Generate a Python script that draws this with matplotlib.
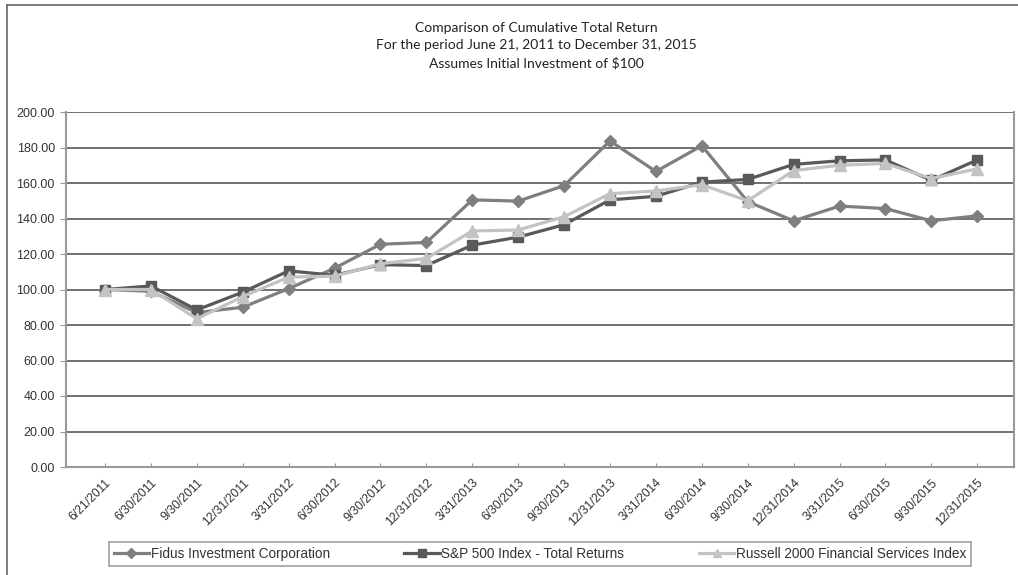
from matplotlib import pyplot as plt
from matplotlib.lines import Line2D

dates = ["6/21/2011", "6/30/2011", "9/30/2011", "12/31/2011", "3/31/2012", "6/30/2012",
         "9/30/2012", "12/31/2012", "3/31/2013", "6/30/2013", "9/30/2013", "12/31/2013",
         "3/31/2014", "6/30/2014", "9/30/2014", "12/31/2014", "3/31/2015", "6/30/2015",
         "9/30/2015", "12/31/2015"]
fidus = [100, 99, 87, 90, 100.5, 112, 125.5, 126.5, 150.5, 149.8, 158.5, 183.7, 166.5,
         181, 149.5, 138.7, 147, 145.6, 138.7, 141.5]
sp500 = [100, 102, 88.5, 98.5, 110.5, 108, 114, 113.5, 125, 129.5, 136.5, 150.5, 152.5,
         160.5, 162, 170.5, 172.5, 173, 161.5, 173]
russell = [100, 100, 83.5, 96, 107, 107.5, 114.5, 117.5, 133, 133.5, 141, 154, 155.5,
           159, 150, 167, 170, 171, 162.5, 168]
names = ["Fidus Investment Corporation", "S&P 500 Index - Total Returns",
         "Russell 2000 Financial Services Index"]

plt.rcParams['font.family'] = ['Liberation Sans', 'DejaVu Sans']

fig = plt.figure(figsize=(10.18, 5.75), dpi=100)
ax = fig.add_axes([66/1018, 108/575, (1014-66)/1018, (467-112)/575])

x = list(range(len(dates)))
ax.plot(x, fidus, color="#7f7f7f", linewidth=2.3, marker="D", markersize=6.5, zorder=3)
ax.plot(x, sp500, color="#595959", linewidth=2.3, marker="s", markersize=7.5, zorder=4)
ax.plot(x, russell, color="#c3c3c3", linewidth=2.3, marker="^", markersize=8.5, zorder=5)

ax.set_ylim(0, 200)
ax.set_xlim(-0.85, 19.8)
ax.set_yticks(range(0, 201, 20))
ax.set_yticklabels(["%.2f" % v for v in range(0, 201, 20)], fontsize=9, color="#333333")
ax.yaxis.grid(True, color="#707070", linewidth=1.4)
ax.set_axisbelow(True)
ax.set_xticks(x)
ax.set_xticklabels(dates, rotation=45, ha="right", rotation_mode="anchor", fontsize=8.8, color="#333333")
ax.tick_params(axis="x", direction="in", length=3, color="#999999", pad=7)
ax.tick_params(axis="y", direction="out", length=4, color="#999999", pad=4)
for s in ["left", "bottom", "right"]:
    ax.spines[s].set_color("#999999")
    ax.spines[s].set_linewidth(1.5)
ax.spines["top"].set_visible(False)

fig.text(536/1018, 1 - 28/575, "Comparison of Cumulative Total Return", ha="center", va="center",
         fontsize=10, family="Lato", color="#222222")
fig.text(536/1018, 1 - 45/575, "For the period June 21, 2011 to December 31, 2015", ha="center",
         va="center", fontsize=10, family="Lato", color="#222222")
fig.text(536/1018, 1 - 63/575, "Assumes Initial Investment of $100", ha="center", va="center",
         fontsize=10, family="Lato", color="#222222")

# figure frame (left and top edges visible)
fig.add_artist(Line2D([7/1018, 7/1018], [0, 1 - 5/575], transform=fig.transFigure, color="#666666", linewidth=1.2))
fig.add_artist(Line2D([7/1018, 1], [1 - 5/575, 1 - 5/575], transform=fig.transFigure, color="#666666", linewidth=1.2))

handles = [Line2D([], [], color="#7f7f7f", linewidth=2.3, marker="D", markersize=5),
           Line2D([], [], color="#595959", linewidth=2.3, marker="s", markersize=6),
           Line2D([], [], color="#c3c3c3", linewidth=2.3, marker="^", markersize=6)]
leg = fig.legend(handles, names, loc="center", ncol=3, bbox_to_anchor=(540/1018, 1 - 554/575),
                 fontsize=9.8, frameon=True, fancybox=False, handlelength=2.6, handletextpad=0.1,
                 columnspacing=5.5, borderpad=0.35, borderaxespad=0)
leg.get_frame().set_edgecolor("#888888")
leg.get_frame().set_linewidth(1.2)
for t in leg.get_texts():
    t.set_color("#333333")

plt.savefig("out.png")
